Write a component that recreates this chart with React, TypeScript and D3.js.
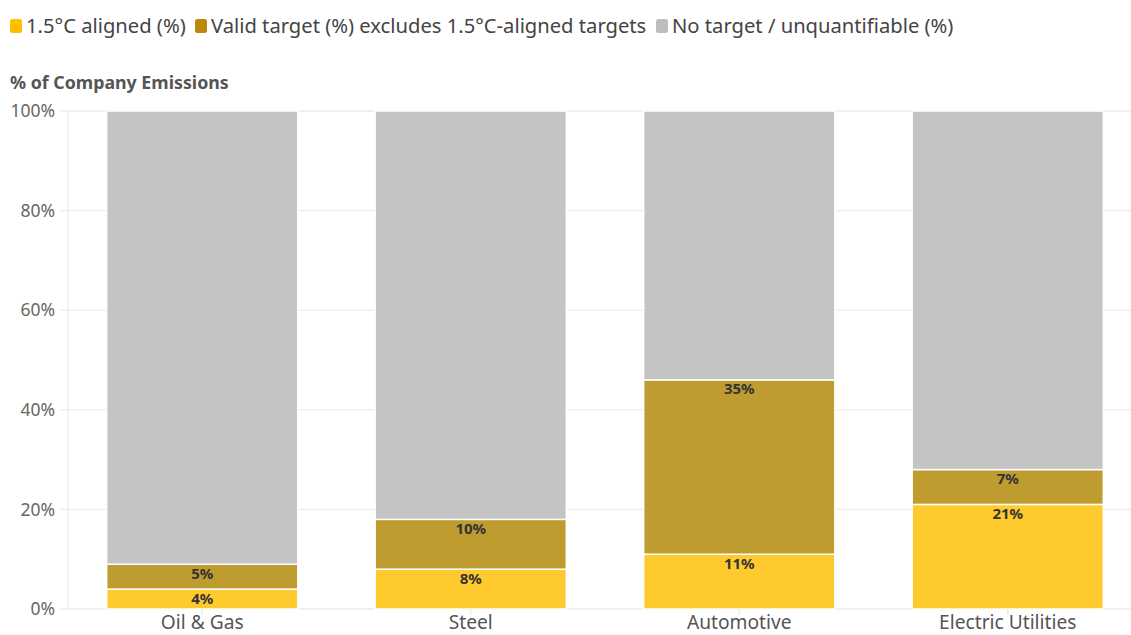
import React from "react";
import * as d3 from "d3";

const categories = ["Oil & Gas", "Steel", "Automotive", "Electric Utilities"];
const aligned = [4, 8, 11, 21];
const validTarget = [5, 10, 35, 7];
const noTarget = [91, 82, 54, 72];
const seriesNames = [
  "1.5°C aligned (%)",
  "Valid target (%) excludes 1.5°C-aligned targets",
  "No target / unquantifiable (%)",
];
const yTicks = [0, 20, 40, 60, 80, 100];

const W = 1131;
const H = 635;
const FONT = "'Noto Sans', 'Open Sans', sans-serif";
const barColors = ["#ffca2e", "#bf9c30", "#c4c4c4"];
const swatchColors = ["#ffbf00", "#b8890a", "#bdbdbd"];

export default function App() {
  const x = d3
    .scaleBand<string>()
    .domain(categories)
    .range([68, 1142])
    .paddingInner(0.288)
    .paddingOuter(0.144);
  const y = d3.scaleLinear().domain([0, 100]).range([609, 111]);

  const rows = categories.map((c, i) => ({
    cat: c,
    a: aligned[i],
    v: validTarget[i],
    n: noTarget[i],
  }));
  const stack = d3.stack<any>().keys(["a", "v", "n"])(rows);

  const legendX = [10, 195, 656];

  return (
    <svg
      width={W}
      height={H}
      style={{ position: "absolute", left: 0, top: 0, background: "#fff" }}
      fontFamily={FONT}
    >
      {/* legend */}
      {seriesNames.map((s, i) => (
        <g key={s} transform={`translate(${legendX[i]},0)`}>
          <rect x={0} y={19} width={12} height={14} rx={2.5} fill={swatchColors[i]} />
          <text x={16} y={33} fontSize={20.2} fill="#444">
            {s}
          </text>
        </g>
      ))}

      {/* axis title */}
      <text x={10} y={89} fontSize={17.8} fontWeight={700} fill="#555">
        % of Company Emissions
      </text>

      {/* grid + y labels */}
      {yTicks.map((t) => (
        <g key={t}>
          <line x1={60} x2={W} y1={y(t)} y2={y(t)} stroke="#ebebeb" strokeWidth={1.3} />
          <text
            x={55}
            y={y(t)}
            dy="0.35em"
            textAnchor="end"
            fontSize={17.5}
            fill="#666"
          >
            {t}%
          </text>
        </g>
      ))}
      <line x1={68} x2={68} y1={111} y2={609} stroke="#ebebeb" strokeWidth={1.3} />

      {/* bars */}
      {stack.map((layer, li) => (
        <g key={li}>
          {layer.map((d: any, i: number) => {
            const top = y(d[1]);
            const bot = y(d[0]);
            return (
              <g key={i}>
                <rect
                  x={x(categories[i])!}
                  y={top}
                  width={x.bandwidth()}
                  height={bot - top}
                  fill={barColors[li]}
                  stroke="#fff"
                  strokeWidth={1.5}
                />
                {li < 2 && (
                  <text
                    x={x(categories[i])! + x.bandwidth() / 2}
                    y={top + 14.5}
                    textAnchor="middle"
                    fontSize={15}
                    fontWeight={700}
                    fill="#333"
                  >
                    {d[1] - d[0]}%
                  </text>
                )}
              </g>
            );
          })}
        </g>
      ))}

      {/* x axis ticks and labels */}
      {categories.map((c) => {
        const cx = x(c)! + x.bandwidth() / 2;
        return (
          <g key={c}>
            <line x1={cx} x2={cx} y1={609} y2={615} stroke="#ebebeb" strokeWidth={1.3} />
            <text x={cx} y={629} textAnchor="middle" fontSize={19.2} fill="#555">
              {c}
            </text>
          </g>
        );
      })}
    </svg>
  );
}
